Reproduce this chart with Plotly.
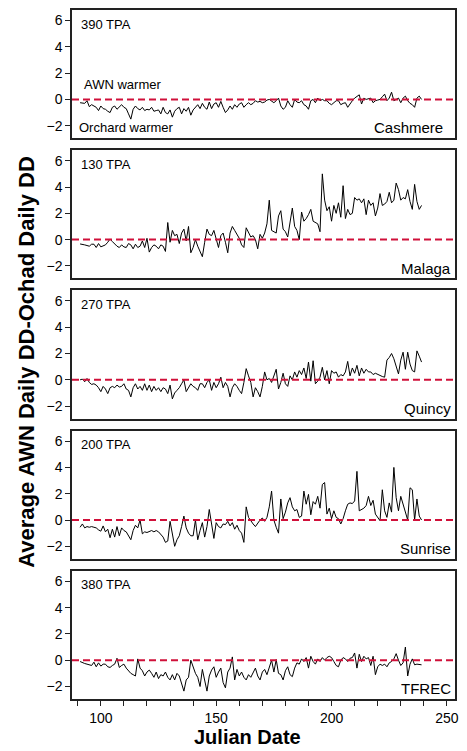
import plotly.graph_objects as go
from plotly.subplots import make_subplots

# Julian dates of the daily records
julian_day = list(range(91, 240))

# Average AWN daily degree-days minus orchard daily degree-days, per site
cashmere = [
    -0.25, -0.25, -0.3, -0.1, -0.55, -0.4, -0.5, -0.6, -0.85, -0.5,
    -0.7, -0.75, -0.9, -1.0, -0.6, -0.5, -0.75, -0.6, -0.4, -0.6,
    -0.7, -1.1, -1.5, -0.75, -0.5, -0.7, -0.8, -0.6, -0.85, -0.75,
    -0.8, -0.6, -0.9, -0.85, -0.8, -1.1, -0.6, -1.0, -1.1, -0.8,
    -1.35, -0.9, -0.7, -0.6, -1.1, -0.7, -0.9, -0.6, -1.2, -0.8,
    -0.6, -0.4, -0.7, -0.3, -0.6, -0.75, -0.2, -0.7, -0.35, -0.25,
    -0.6, -0.15, -0.6, -1.0, -0.8, -0.5, -0.75, -0.4, -0.6, -0.35,
    -0.25, -0.6, -0.4, -0.25, -0.4, -0.3, -0.1, -0.2, -0.15, -0.25,
    -0.2, -0.05, 0.0, -0.1, -0.25, -0.1, 0.1, -0.5, -0.75, -0.6,
    -0.1, -0.4, -0.6, 0.0, -0.2, -0.25, -0.1, -0.4, -0.5, -0.75,
    -0.1, 0.0, -0.25, 0.1, -0.1, 0.0, -0.1, -0.1, -0.3, -0.4,
    -0.25, -0.1, -0.1, -0.4, -0.3, -0.25, -0.6, -0.3, -0.1, 0.1,
    0.2, 0.35, -0.35, 0.1, 0.0, 0.05, 0.1, -0.25, -0.1, -0.05,
    0.0, 0.2, 0.4, -0.1, 0.1, 0.55, -0.1, 0.0, 0.1, -0.25,
    0.1, 0.25, -0.1, -0.3, -0.4, -0.6, 0.1, 0.25, 0.0,
]
malaga = [
    -0.33, -0.35, -0.4, -0.45, -0.5, -0.35, -0.35, -0.6, -0.3, -0.55,
    -0.5, -0.4, -0.2, 0.05, -0.15, -0.35, -0.5, -0.6, -0.4, -0.55,
    -0.6, -0.3, -0.4, -0.7, -0.35, -0.6, -0.5, -0.1, -0.6, 0.1,
    -0.95, -0.6, -0.4, -0.5, -0.7, -0.4, -0.5, -0.9, 1.3, -0.2,
    0.7, 0.3, 0.4, -0.3, 0.5, 0.8, -0.1, 1.0, -1.0, -0.6,
    0.0, -0.5, -0.9, -1.3, -0.2, 0.8, 0.4, 0.3, 0.7, 0.1,
    -0.6, 0.3, 0.5, -0.2, -1.0, 0.5, 1.0, 0.7, 0.4, 0.1,
    -0.4, -0.6, 0.9, 0.5, 0.2, 0.3, 0.0, -0.7, 0.4, 0.1,
    0.5, 1.2, 3.0, 0.7, 0.6, 0.5, 1.8, 2.2, 0.8, 0.6,
    0.2, 1.2, 2.4, 1.0, 0.7, 0.0, 2.1, 1.4, 1.6, 1.9,
    2.3, 1.4, 1.3, 1.2, 0.6, 5.0, 3.0, 2.2, 2.5, 1.4,
    2.6, 2.0, 2.8, 1.7, 4.1, 1.6, 2.3, 1.9, 2.0, 3.2,
    3.0, 3.1, 2.8, 3.1, 1.9, 3.0, 2.6, 2.8, 1.8, 2.4,
    3.5, 2.6, 2.7, 2.9, 3.6, 2.8, 3.0, 4.3, 3.8, 3.0,
    3.2, 3.1, 3.8, 2.9, 2.3, 4.2, 2.9, 2.3, 2.6,
]
quincy = [
    0.0, 0.05, -0.15, 0.1, -0.2, -0.35, -0.3, -0.4, -0.6, -0.9,
    -0.5, -0.7, -1.05, -0.6, -0.5, -0.6, -0.4, -0.55, -0.5, -0.3,
    -0.7, -0.8, -1.3, -0.6, -0.3, -0.7, -0.5, -0.8, -0.3, -0.8,
    -0.4, -0.9, -0.5, -0.8, -0.6, -0.9, -0.6, -0.7, -1.05, -0.4,
    -1.45, -1.0, -0.8, -0.6, -0.3, 0.0, -0.9, -0.6, -0.3, -0.5,
    -0.6, -0.8, -0.3, -0.3, -0.6, -0.2, 0.0, -0.8, -0.2, -0.6,
    -0.3, 0.2, -0.6, -0.2, -0.5, -1.3, -0.6, -0.3, -0.5, -0.8,
    -1.05, -0.2, 0.85, 0.3, -0.2, -1.3, -0.6, -0.9, -1.3, -0.5,
    0.6, 0.0, 0.1, -0.2, 0.3, 0.8, -0.7, -0.2, 0.5, -0.3,
    -0.5, 0.3, 0.0, 0.6, 0.2, 0.7, 0.4, 0.9, 0.1, 1.35,
    -0.1, 1.45, -0.3, -0.1, 0.2, 0.95, 0.0, 0.7, -0.3, 0.7,
    0.5, 0.6, 0.2, 0.4, 0.3, 0.6, 1.4, 0.3, 0.9, 0.5,
    1.1, 0.3, 0.9, 0.5, 0.8, 0.6, 0.6, 0.4, 0.5, 0.4,
    0.3, 0.25, 0.2, 1.5, 1.7, 2.0, 1.6, 1.0, 0.45, 1.5,
    2.1, 0.8, 2.1, 1.2, 0.7, 0.6, 2.2, 1.8, 1.35,
]
sunrise = [
    -0.55, -0.3, -0.6, -0.5, -0.55, -0.5, -0.55, -0.6, -0.75, -0.85,
    -0.45, -0.9, -0.7, -1.35, -0.7, -1.3, -0.5, -1.2, -0.6, -0.8,
    -0.9, -1.2, -1.5, -0.8, -0.4, -0.6, 0.0, -1.05, -0.9, -0.95,
    -0.85, -0.8, -0.9, -0.8, -0.9, -1.1, -1.3, -1.7, -1.6, -0.1,
    -1.2, -2.0, -1.5, -1.2, -0.5, 0.3, -0.6, -1.0, -1.2, -1.2,
    0.0, -1.5, -0.8, -0.2, -1.3, -0.5, 0.8, -0.2, -1.4, -0.2,
    -0.5, -0.6, -0.3, -0.35, -0.1, -0.45, -0.2, -0.7, -0.4, -0.8,
    -1.0, -1.7, 1.0, 0.2, -0.1, -0.3, -0.5, -0.2, 0.0, 0.15,
    -0.1, 0.2, 1.0, 2.2, 0.0, -0.55, -1.0, 1.6, 0.1, 0.6,
    1.3, 1.7, 1.0, 0.7, 0.8, 0.2, 0.3, 2.2, 1.2, 1.95,
    0.4, 1.4, 1.2, 1.8, 0.9, 2.7, 2.85, 0.45, 0.9, 0.1,
    0.7, 0.2, 0.1, -0.3, 0.1, 0.7, 1.2, 1.3, 1.25, 1.45,
    3.7, 0.7, 0.8, 0.9, 1.1, 1.8, 1.1, 1.5, 0.45, 0.2,
    -0.05, 2.3, 0.7, 0.2, 1.3, 0.6, 4.0, 1.7, 0.7, 1.8,
    1.2, 0.5, 0.0, 2.45, 2.3, 0.0, 1.6, 0.3, 0.0,
]
tfrec = [
    -0.1, -0.2, -0.25, -0.3, -0.35, -0.4, -0.15, -0.5, -0.2, -0.45,
    -0.3, -0.3, -0.5, -0.55, -0.4, -0.3, 0.15, -0.55, -0.4, -0.3,
    -0.6, -0.85, -1.0, -1.1, -1.2, 0.1, -0.6, -0.8, -1.2, -0.9,
    -0.75, -1.0, -1.3, -0.9, -1.4, -1.1, -1.2, -0.9, -1.3, -1.5,
    -1.1, -1.5, -1.0, -1.2, -1.8, -2.35, -1.5, -1.3, 0.0, -0.6,
    -1.0, -1.3, -2.0, -0.7, -1.5, -2.35, -1.2, -0.75, -0.5, -1.3,
    -0.9, -0.6, -1.7, -2.1, -0.9, -0.6, 0.25, -1.5, -0.7, -1.2,
    -0.9, -1.3, -1.5, -1.1, -1.3, -0.9, -0.6, -1.2, -1.5, -0.9,
    -0.7, -1.1, -0.5, 0.0, -0.9, 0.05, -1.0, -1.1, -1.5, -0.8,
    -0.5, -1.1, -1.25, -0.6, -0.2, -0.3, 0.1, -0.1, 0.2, -0.6,
    0.3, -0.1, -0.3, 0.1, -0.1, 0.2, 0.0, 0.2, 0.3, 0.2,
    -0.1, -0.4, -0.5, 0.0, 0.2, 0.1, -0.1, 0.15, 0.2, 0.55,
    -0.6, 0.45, -0.1, 0.3, 0.1, 0.2, -0.4, 0.3, -1.1, -0.5,
    -0.3, -0.4, -0.3, -0.5, -0.2, -0.1, 0.1, 0.5, 0.0, -0.4,
    -0.2, 1.0, -1.2, -0.3, 0.1, -0.35, -0.3, -0.35, -0.35,
]

site_names = ["Cashmere", "Malaga", "Quincy", "Sunrise", "TFREC"]
tpa_labels = ["390 TPA", "130 TPA", "270 TPA", "200 TPA", "380 TPA"]
site_series = [cashmere, malaga, quincy, sunrise, tfrec]

y_ticks = [-2, 0, 2, 4, 6]
x_ticks = [100, 150, 200, 250]

FONT = "Liberation Sans, Arial, Helvetica, sans-serif"
AXIS_COLOR = "#222222"
REF_COLOR = "#d0103a"

fig = make_subplots(rows=5, cols=1, shared_xaxes=True, vertical_spacing=0.0174)

for i, (series, name, tpa) in enumerate(zip(site_series, site_names, tpa_labels)):
    row = i + 1
    fig.add_trace(
        go.Scatter(x=julian_day, y=series, mode="lines",
                   line=dict(color="black", width=1), showlegend=False,
                   hoverinfo="x+y"),
        row=row, col=1,
    )
    suffix = "" if row == 1 else str(row)
    xref = f"x{suffix} domain"
    yref = f"y{suffix}"
    yref_dom = f"y{suffix} domain"

    # zero reference line
    fig.add_shape(type="line", xref=xref, yref=yref, x0=0, x1=1, y0=0, y1=0,
                  line=dict(color=REF_COLOR, width=2, dash="7px,4px"), layer="above")

    fig.add_annotation(text=tpa, xref=xref, yref=yref_dom, x=0.018, y=0.89,
                       xanchor="left", yanchor="middle", showarrow=False,
                       font=dict(family=FONT, size=13, color="black"))
    name_x = 0.975 if row == 1 else 0.994
    fig.add_annotation(text=name, xref=xref, yref=yref_dom, x=name_x, y=0.08,
                       xanchor="right", yanchor="middle", showarrow=False,
                       font=dict(family=FONT, size=15, color="black"))

    fig.update_yaxes(row=row, col=1, range=[-2.95, 6.8], tickvals=y_ticks,
                     ticks="outside", ticklen=5, tickwidth=1.2, tickcolor=AXIS_COLOR,
                     showline=True, linewidth=1.5, linecolor=AXIS_COLOR, mirror=True,
                     showgrid=False, zeroline=False,
                     tickfont=dict(family=FONT, size=14, color="black"))
    last = row == 5
    fig.update_xaxes(row=row, col=1, range=[87.5, 253.5],
                     showline=True, linewidth=1.5, linecolor=AXIS_COLOR, mirror=True,
                     showgrid=False, zeroline=False,
                     tickvals=x_ticks if last else [],
                     ticks="outside" if last else "", ticklen=5, tickwidth=1.2,
                     tickcolor=AXIS_COLOR, showticklabels=last,
                     tickfont=dict(family=FONT, size=14, color="black"),
                     minor=dict(dtick=10, tick0=100, ticks="outside" if last else "",
                                ticklen=5, tickwidth=1, tickcolor=AXIS_COLOR,
                                showgrid=False))

# Explanatory labels in the first panel
fig.add_annotation(text="AWN warmer", xref="x domain", yref="y", x=0.026, y=1.15,
                   xanchor="left", yanchor="middle", showarrow=False,
                   font=dict(family=FONT, size=13, color="black"))
fig.add_annotation(text="Orchard warmer", xref="x domain", yref="y", x=0.013, y=-2.1,
                   xanchor="left", yanchor="middle", showarrow=False,
                   font=dict(family=FONT, size=13, color="black"))

# Axis titles
fig.add_annotation(text="<b>Average AWN Daily DD-Ochad Daily DD</b>", xref="paper",
                   yref="paper", x=-0.119, y=0.49, xanchor="center", yanchor="middle",
                   textangle=-90, showarrow=False,
                   font=dict(family=FONT, size=22, color="black"))
fig.add_annotation(text="<b>Julian Date</b>", xref="paper", yref="paper",
                   x=0.458, y=-0.0745, xanchor="center", yanchor="bottom",
                   showarrow=False, font=dict(family=FONT, size=20, color="black"))

fig.update_layout(
    width=467, height=751,
    margin=dict(l=72, r=10, t=8, b=52),
    paper_bgcolor="white", plot_bgcolor="white",
    showlegend=False,
)

fig.write_html("out.html")
